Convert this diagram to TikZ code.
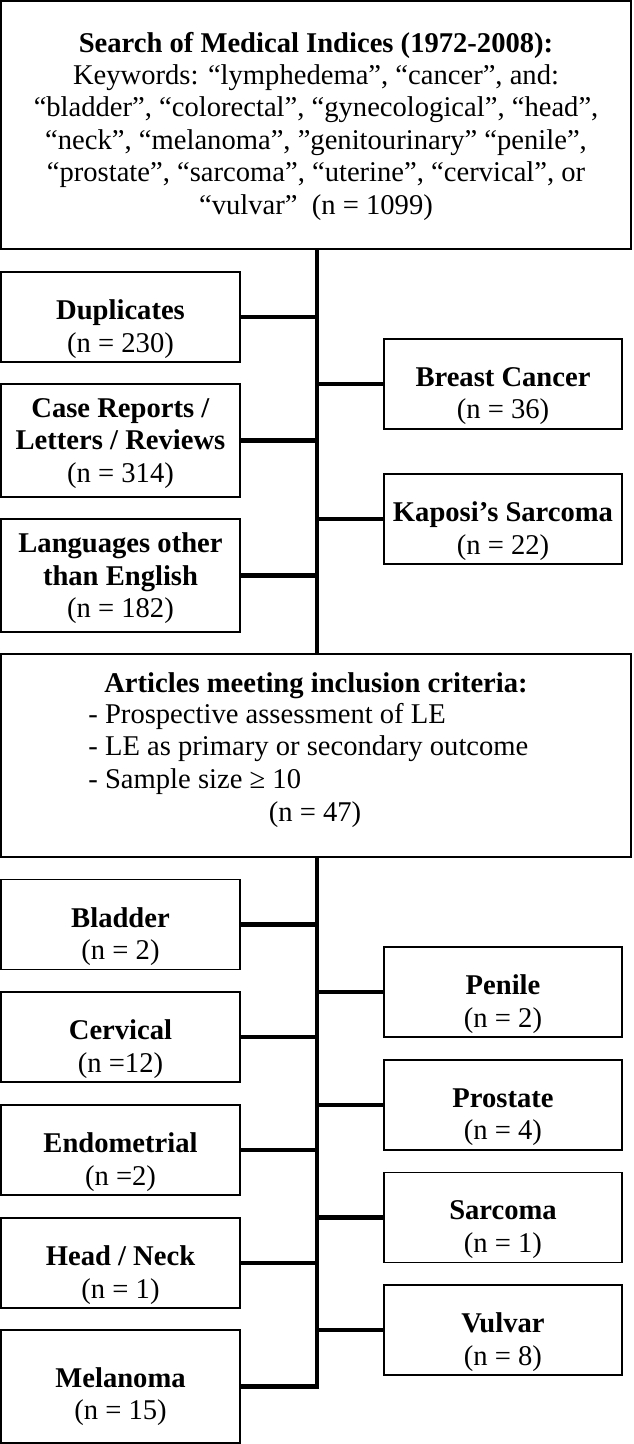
\documentclass[tikz,border=0pt]{standalone}
\usepackage{fontspec}
\setmainfont{Liberation Serif}
\begin{document}
\begin{tikzpicture}[x=0.5pt,y=-0.5pt,
  box/.style={draw, line width=0.75pt, inner sep=0pt, outer sep=0pt},
  lbox/.style={box, minimum width=119.5pt},
  rbox/.style={box, minimum width=119pt},
  two/.style={minimum height=45pt},
  three/.style={minimum height=56.5pt},
  lbl/.style={align=center, inner sep=0pt, font=\fontsize{14.3}{16.2}\selectfont},
  link/.style={line width=2.2pt}]
\useasboundingbox (0,0) rectangle (633,1444);
\coordinate (sp) at (317,0);
% top box
\node[box, minimum width=315pt, minimum height=124pt] (top) at (316,125) {};
\node[lbl] (topT) at ([yshift=-0.5pt]top.center) {\textbf{Search of Medical Indices (1972-2008):}\\
Keywords: “lymphedema”, “cancer”, and:\\
“bladder”, “colorectal”, “gynecological”, “head”,\\
“neck”, “melanoma”, ”genitourinary” “penile”,\\
“prostate”, “sarcoma”, “uterine”, “cervical”, or\\
“vulvar”~ (n = 1099)};
% first exclusion group
\node[lbox, two] (dup) at (120.5,317) {};
\node[lbl] (dupT) at ([yshift=-6pt]dup.center) {\textbf{Duplicates}\\(n = 230)};
\node[lbox, three] (cas) at (120.5,440.5) {};
\node[lbl] (casT) at ([yshift=-1.5pt]cas.center) {\textbf{Case Reports /}\\\textbf{Letters / Reviews}\\(n = 314)};
\node[lbox, three] (lan) at (120.5,575.5) {};
\node[lbl] (lanT) at ([yshift=-1.5pt]lan.center) {\textbf{Languages other}\\\textbf{than English}\\(n = 182)};
\node[rbox, two] (bre) at (503,384) {};
\node[lbl] (breT) at ([yshift=-6pt]bre.center) {\textbf{Breast Cancer}\\(n = 36)};
\node[rbox, two] (kap) at (503,519) {};
\node[lbl] (kapT) at ([yshift=-6pt]kap.center) {\textbf{Kaposi’s Sarcoma}\\(n = 22)};
% articles box
\node[box, minimum width=315pt, minimum height=101.5pt] (art) at (316,755.5) {};
\node[lbl, anchor=base] (artH) at (316,692) {\textbf{Articles meeting inclusion criteria:}};
\node[lbl, anchor=base west] (art1) at (88,723) {- Prospective assessment of LE};
\node[lbl, anchor=base west] (art2) at (88,755.5) {- LE as primary or secondary outcome};
\node[lbl, anchor=base west] (art3) at (88,788) {- Sample size ≥ 10};
\node[lbl, anchor=base] (artN) at (315,821) {(n = 47)};
% result groups
\node[lbox, two] (bla) at (120.5,924.5) {};
\node[lbl] (blaT) at ([yshift=-6pt]bla.center) {\textbf{Bladder}\\(n = 2)};
\node[lbox, two] (cer) at (120.5,1037) {};
\node[lbl] (cerT) at ([yshift=-6pt]cer.center) {\textbf{Cervical}\\(n =12)};
\node[lbox, two] (end) at (120.5,1150) {};
\node[lbl] (endT) at ([yshift=-6pt]end.center) {\textbf{Endometrial}\\(n =2)};
\node[lbox, two] (hea) at (120.5,1263) {};
\node[lbl] (heaT) at ([yshift=-6pt]hea.center) {\textbf{Head / Neck}\\(n = 1)};
\node[lbox, three] (mel) at (120.5,1386.5) {};
\node[lbl] (melT) at ([yshift=-5pt]mel.center) {\textbf{Melanoma}\\(n = 15)};
\node[rbox, two] (pen) at (503,992) {};
\node[lbl] (penT) at ([yshift=-6pt]pen.center) {\textbf{Penile}\\(n = 2)};
\node[rbox, two] (pro) at (503,1105) {};
\node[lbl] (proT) at ([yshift=-6pt]pro.center) {\textbf{Prostate}\\(n = 4)};
\node[rbox, two] (sar) at (503,1217.5) {};
\node[lbl] (sarT) at ([yshift=-6pt]sar.center) {\textbf{Sarcoma}\\(n = 1)};
\node[rbox, two] (vul) at (503,1330) {};
\node[lbl] (vulT) at ([yshift=-6pt]vul.center) {\textbf{Vulvar}\\(n = 8)};
% connectors
\draw[link] (top.south -| sp) -- (art.north -| sp);
\draw[link] (art.south -| sp) |- (mel.east);
\foreach \n in {dup,cas,lan,bla,cer,end,hea} \draw[link] (\n.east) -- (\n.east -| sp);
\foreach \n in {bre,kap,pen,pro,sar,vul} \draw[link] (\n.west) -- (\n.west -| sp);
\end{tikzpicture}
\end{document}
